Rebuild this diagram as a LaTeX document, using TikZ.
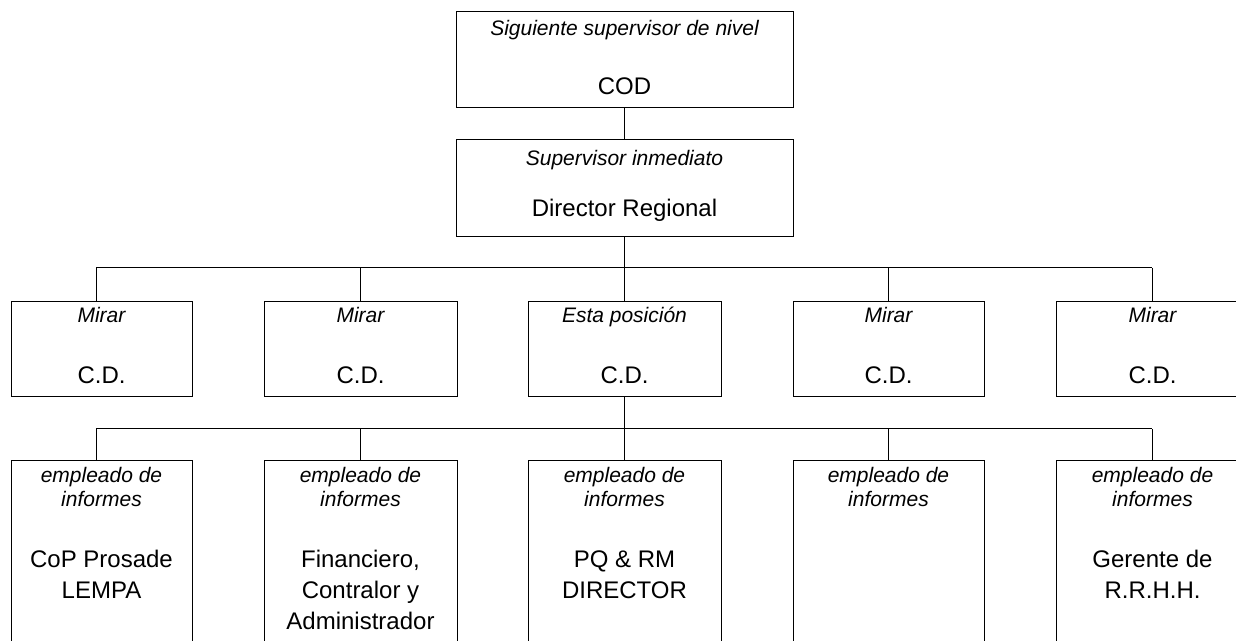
\documentclass[tikz,border=0pt]{standalone}
\usepackage{fontspec}
\setmainfont{Liberation Sans}
\usetikzlibrary{
  positioning,
  calc,
  fit
}

\begin{document}
\begin{tikzpicture}[
  x = 0.75pt, y = -0.75pt,
  box/.style   = {draw, line width = 0.75pt, inner sep = 0pt},
  title/.style = {font = \fontsize{15.75}{18}\selectfont\itshape, align = center, anchor = base, inner sep = 0pt},
  post/.style  = {font = \fontsize{18}{23.25}\selectfont, align = center, anchor = base, inner sep = 0pt},
  link/.style  = {line width = 0.75pt}
]
  \useasboundingbox (0,0) rectangle (1236,641);
  \clip (0,0) rectangle (1236,641);

  % Supervisors
  \node [box, fit = {(456, 12) (793,108)}] (cod) {};
  \node [box, fit = {(456,140) (793,237)}] (dir) {};

  \node [title] (codt) at ($(cod.north)+(0,24)$) {Siguiente supervisor de nivel};
  \node [post]  (codn) at ($(cod.north)+(0,83)$) {COD};
  \node [title] (dirt) at ($(dir.north)+(0,26)$) {Supervisor inmediato};
  \node [post]  (dirn) at ($(dir.north)+(0,77)$) {Director Regional};

  \draw [link] (cod.south) -- (dir.north);

  % C.D. row
  \coordinate (busa l) at (  96,268);
  \coordinate (busa r) at (1152,268);
  \draw [link] (dir.south) -- (dir.south |- busa l);
  \draw [link] (busa l) -- (busa r);

  \foreach \name/\xl/\xr/\sx/\ttl in {cd1/11/192/96/Mirar, cd2/264/457/360/Mirar, cd3/528/721/624/Esta posición, cd4/793/984/888/Mirar, cd5/1056/1249/1152/Mirar}
  {
    \node [box, fit = {(\xl,302) (\xr,397)}] (\name) {};
    \node [title] (\name t) at ($(\name.north)+(0,21)$) {\ttl};
    \node [post]  (\name n) at ($(\name.north)+(0,82)$) {C.D.};
    \coordinate (\name top) at (\sx,268);
    \draw [link] (\name top) -- (\name top |- \name.north);
  }

  % Reporting employees (text placed by its last baseline)
  \coordinate (busb l) at (  96,429);
  \coordinate (busb r) at (1152,429);
  \draw [link] (cd3.south) -- (cd3.south |- busb l);
  \draw [link] (busb l) -- (busb r);

  \foreach \name/\xl/\xr/\sx/\dy/\txt in {rep1/11/192/96/138/{CoP Prosade\\LEMPA}, rep2/264/457/360/169/{Financiero,\\Contralor y\\Administrador}, rep3/528/721/624/138/{PQ \& RM\\DIRECTOR}, rep4/793/984/888/107/{}, rep5/1056/1249/1152/138/{Gerente de\\R.R.H.H.}}
  {
    \node [box, fit = {(\xl,461) (\xr,660)}] (\name) {};
    \node [title] (\name t) at ($(\name.north)+(0,46)$) {empleado de\\informes};
    \node [post]  (\name n) at ($(\name.north)+(0,\dy)$) {\txt};
    \coordinate (\name top) at (\sx,429);
    \draw [link] (\name top) -- (\name top |- \name.north);
  }
\end{tikzpicture}
\end{document}
